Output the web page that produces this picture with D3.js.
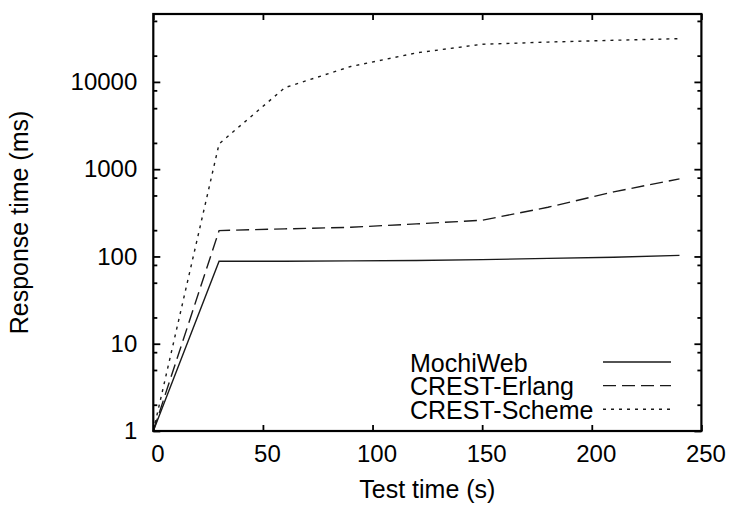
<!DOCTYPE html>
<html>
<head>
<meta charset="utf-8">
<script src="https://d3js.org/d3.v7.min.js"></script>
<style>
  body { margin: 0; background: #fff; }
  text { font-family: "Liberation Sans", Arial, sans-serif; fill: #000; }
</style>
</head>
<body>
<svg width="729" height="508" id="chart"></svg>
<script>
  // test time in seconds
  var times = [0, 30, 60, 90, 120, 150, 180, 210, 240]
  // response times (ms)
  var mochiWeb    = [1, 88, 88, 89, 90, 92, 95, 98, 103]
  var crestErlang = [1, 198, 207, 216, 236, 260, 366, 550, 775]
  var crestScheme = [1, 1950, 8600, 15000, 21500, 27000, 28600, 30000, 31300]

  var seriesNames = ["MochiWeb", "CREST-Erlang", "CREST-Scheme"]
  var xTicks = [0, 50, 100, 150, 200, 250]
  var yTicks = [1, 10, 100, 1000, 10000]
  var yMinorTicks = [2, 5, 8, 20, 50, 80, 200, 500, 800, 2000, 5000, 8000, 20000, 50000]

  var svg = d3.select('#chart')
  // plot box (note: "top" is reserved on window, so use other names)
  var pLeft = 153.3, pRight = 701.4, pTop = 14, pBottom = 431

  var x = d3.scaleLinear().domain([0, 250]).range([pLeft, pRight])
  var y = d3.scaleLog().domain([1, 60000]).range([pBottom, pTop])

  // dash styles per series
  var dashes = ["none", "13,6", "3,5"]
  var series = [mochiWeb, crestErlang, crestScheme]

  // axes: ticks point inward on all four sides
  svg.append('g')
    .attr('class', 'xaxis')
    .attr('transform', 'translate(0,' + pBottom + ')')
    .call(d3.axisBottom(x).tickValues(xTicks).tickSize(-6).tickPadding(14).tickFormat(d3.format('d')))
  svg.append('g')
    .attr('transform', 'translate(0,' + pTop + ')')
    .call(d3.axisTop(x).tickValues(xTicks).tickSize(-6).tickFormat(''))
  svg.append('g')
    .attr('transform', 'translate(' + pLeft + ',0)')
    .call(d3.axisLeft(y).tickValues(yTicks).tickSize(-7).tickPadding(16).tickFormat(d3.format('d')))
  svg.append('g')
    .attr('transform', 'translate(' + pLeft + ',0)')
    .call(d3.axisLeft(y).tickValues(yMinorTicks).tickSize(-4).tickFormat(''))
  svg.append('g')
    .attr('transform', 'translate(' + pRight + ',0)')
    .call(d3.axisRight(y).tickValues(yTicks).tickSize(-7).tickFormat(''))
  svg.append('g')
    .attr('transform', 'translate(' + pRight + ',0)')
    .call(d3.axisRight(y).tickValues(yMinorTicks).tickSize(-4).tickFormat(''))

  svg.selectAll('.domain').remove()
  svg.selectAll('.tick line').attr('stroke', '#000').attr('stroke-width', 1.8)
  svg.selectAll('.tick text')
    .style('font-size', '24px')
    .style('font-family', '"Liberation Sans", Arial, sans-serif')
    .attr('fill', '#000')
  // x labels sit a little right of their ticks in the original
  svg.selectAll('.xaxis .tick text').attr('dx', 4)

  // the data lines
  var line = d3.line()
    .x(function(d, i) { return x(times[i]) })
    .y(function(d) { return y(d) })

  series.forEach(function(s, k) {
    svg.append('path')
      .attr('d', line(s))
      .attr('fill', 'none')
      .attr('stroke', '#1a1a1a')
      .attr('stroke-width', 1.4)
      .attr('stroke-dasharray', dashes[k])
  })

  // frame
  svg.append('rect')
    .attr('x', pLeft).attr('y', pTop)
    .attr('width', pRight - pLeft).attr('height', pBottom - pTop)
    .attr('fill', 'none')
    .attr('stroke', '#000')
    .attr('stroke-width', 2.2)

  // legend
  var legend = svg.append('g')
  seriesNames.forEach(function(name, k) {
    var base = 371.5 + k * 23.6
    legend.append('text')
      .attr('x', 410).attr('y', base)
      .style('font-size', '25px')
      .text(name)
    legend.append('line')
      .attr('x1', 603).attr('x2', 671)
      .attr('y1', base - 9.5).attr('y2', base - 9.5)
      .attr('stroke', '#1a1a1a')
      .attr('stroke-width', 1.4)
      .attr('stroke-dasharray', dashes[k])
  })

  // axis titles
  svg.append('text')
    .attr('x', (pLeft + pRight) / 2).attr('y', 498)
    .attr('text-anchor', 'middle')
    .style('font-size', '25px')
    .text('Test time (s)')
  svg.append('text')
    .attr('transform', 'translate(28,' + ((pTop + pBottom) / 2) + ')rotate(-90)')
    .attr('text-anchor', 'middle')
    .style('font-size', '25px')
    .text('Response time (ms)')
</script>
</body>
</html>
